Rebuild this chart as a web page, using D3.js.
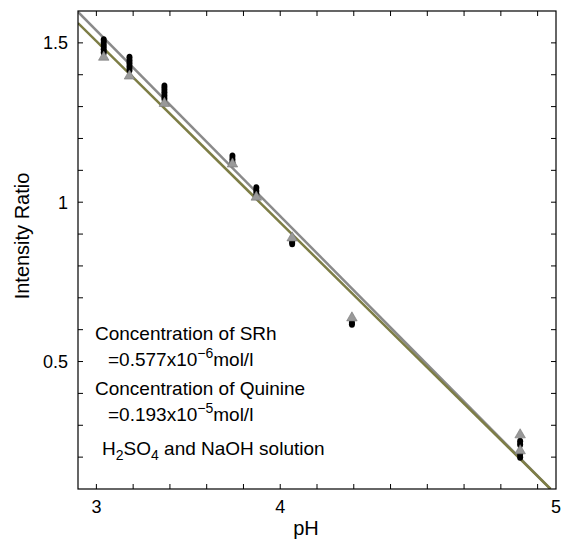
<!DOCTYPE html>
<html>
<head>
<meta charset="utf-8">
<script src="https://cdn.jsdelivr.net/npm/d3@7"></script>
<style>
  body { margin: 0; background: #fff; }
  svg { display: block; font-family: "Liberation Sans", Arial, sans-serif; }
</style>
</head>
<body>
<div id="chart"></div>
<script>
// pH of each measurement group
const phValues = [3.04, 3.18, 3.37, 3.74, 3.87, 4.065, 4.39, 5.305];
// SRh intensity ratios (black dots), several repeats per pH
const srhValues = [
  [1.51, 1.50, 1.49, 1.48, 1.47],
  [1.455, 1.445, 1.435, 1.425, 1.415],
  [1.365, 1.355, 1.345, 1.335, 1.325],
  [1.145, 1.135, 1.125],
  [1.045, 1.035, 1.025],
  [0.876, 0.870],
  [0.622, 0.617],
  [0.25, 0.24, 0.21, 0.20]
];
// Quinine intensity ratios (grey triangles)
const quinineValues = [
  [1.455], [1.396], [1.31], [1.12], [1.016], [0.888], [0.637], [0.27, 0.22]
];
// fitted lines, end points in data units
const fitSRh = [[2.9, 1.597], [5.47, 0.10]];
const fitQuinine = [[2.9, 1.562], [5.47, 0.10]];

const xTicksMinor = d3.range(3.0, 5.41, 0.2);
const xTickLabels = [[3, "3"], [4, "4"], [5.5, "5"]];
const yTicksMinor = d3.range(0.2, 1.51, 0.1);
const yTickLabels = [[0.5, "0.5"], [1, "1"], [1.5, "1.5"]];

const width = 564, height = 540;
const margin = { top: 11, right: 8, bottom: 51, left: 78 };

const svg = d3.select("#chart").append("svg")
  .attr("width", width)
  .attr("height", height);

const x = d3.scaleLinear()
  .domain([2.9, 5.5])
  .range([margin.left, width - margin.right]);

const y = d3.scaleLinear()
  .domain([0.1, 1.6])
  .range([height - margin.bottom, margin.top]);

svg.append("clipPath").attr("id", "clip")
  .append("rect")
  .attr("x", margin.left).attr("y", margin.top)
  .attr("width", x.range()[1] - margin.left)
  .attr("height", y.range()[0] - margin.top);

// ticks pointing inward on all four sides
const tickLen = 5;
const axes = svg.append("g").attr("stroke", "#000").attr("stroke-width", 1);
axes.selectAll(".xb").data(xTicksMinor).join("line")
  .attr("x1", d => x(d)).attr("x2", d => x(d))
  .attr("y1", y.range()[0]).attr("y2", y.range()[0] - tickLen);
axes.selectAll(".xt").data(xTicksMinor).join("line")
  .attr("x1", d => x(d)).attr("x2", d => x(d))
  .attr("y1", margin.top).attr("y2", margin.top + tickLen);
axes.selectAll(".yl").data(yTicksMinor).join("line")
  .attr("y1", d => y(d)).attr("y2", d => y(d))
  .attr("x1", margin.left).attr("x2", margin.left + tickLen);
axes.selectAll(".yr").data(yTicksMinor).join("line")
  .attr("y1", d => y(d)).attr("y2", d => y(d))
  .attr("x1", x.range()[1]).attr("x2", x.range()[1] - tickLen);

// fit lines
const line = d3.line().x(d => x(d[0])).y(d => y(d[1]));
const plot = svg.append("g").attr("clip-path", "url(#clip)");
plot.append("path").datum(fitSRh)
  .attr("d", line).attr("fill", "none")
  .attr("stroke", "#8a8a8a").attr("stroke-width", 2.5);
plot.append("path").datum(fitQuinine)
  .attr("d", line).attr("fill", "none")
  .attr("stroke", "#7d7d45").attr("stroke-width", 2.5);

// SRh black dots
const srhPts = phValues.flatMap((p, i) => srhValues[i].map(v => [p, v]));
svg.append("g").selectAll("ellipse").data(srhPts).join("ellipse")
  .attr("cx", d => x(d[0])).attr("cy", d => y(d[1]))
  .attr("rx", 3).attr("ry", 3.5)
  .attr("fill", "#000");

// Quinine triangles
const qPts = phValues.flatMap((p, i) => quinineValues[i].map(v => [p, v]));
const tri = d3.symbol().type(d3.symbolTriangle).size(48);
svg.append("g").selectAll("path").data(qPts).join("path")
  .attr("d", tri)
  .attr("transform", d => `translate(${x(d[0])},${y(d[1])})`)
  .attr("fill", "#999")
  .attr("stroke", "#777").attr("stroke-width", 0.6);

// frame
svg.append("rect")
  .attr("x", margin.left).attr("y", margin.top)
  .attr("width", x.range()[1] - margin.left)
  .attr("height", y.range()[0] - margin.top)
  .attr("fill", "none").attr("stroke", "#000").attr("stroke-width", 1.2);

// tick labels
svg.append("g").selectAll("text").data(xTickLabels).join("text")
  .attr("x", d => x(d[0])).attr("y", 513)
  .attr("text-anchor", "middle")
  .style("font-size", "18px")
  .text(d => d[1]);
svg.append("g").selectAll("text").data(yTickLabels).join("text")
  .attr("x", 68).attr("y", d => y(d[0]) + 6.5)
  .attr("text-anchor", "end")
  .style("font-size", "18px")
  .text(d => d[1]);

// axis titles
svg.append("text")
  .attr("x", 306).attr("y", 535)
  .attr("text-anchor", "middle")
  .style("font-size", "20px")
  .text("pH");
svg.append("text")
  .attr("transform", "translate(29,236) rotate(-90)")
  .attr("text-anchor", "middle")
  .style("font-size", "20px")
  .text("Intensity Ratio");

// annotation block
const note = svg.append("g").style("font-size", "19px");
note.append("text").attr("x", 95).attr("y", 340).text("Concentration of SRh");
const t1 = note.append("text").attr("x", 108).attr("y", 366);
t1.append("tspan").text("=0.577x10");
t1.append("tspan").attr("dy", -8).style("font-size", "14px").text("\u22126");
t1.append("tspan").attr("dy", 8).text("mol/l");
note.append("text").attr("x", 95).attr("y", 395).text("Concentration of Quinine");
const t2 = note.append("text").attr("x", 108).attr("y", 421);
t2.append("tspan").text("=0.193x10");
t2.append("tspan").attr("dy", -8).style("font-size", "14px").text("\u22125");
t2.append("tspan").attr("dy", 8).text("mol/l");
const t3 = note.append("text").attr("x", 102).attr("y", 455);
t3.append("tspan").text("H");
t3.append("tspan").attr("dy", 5).style("font-size", "14px").text("2");
t3.append("tspan").attr("dy", -5).text("SO");
t3.append("tspan").attr("dy", 5).style("font-size", "14px").text("4");
t3.append("tspan").attr("dy", -5).text(" and NaOH solution");
</script>
</body>
</html>
